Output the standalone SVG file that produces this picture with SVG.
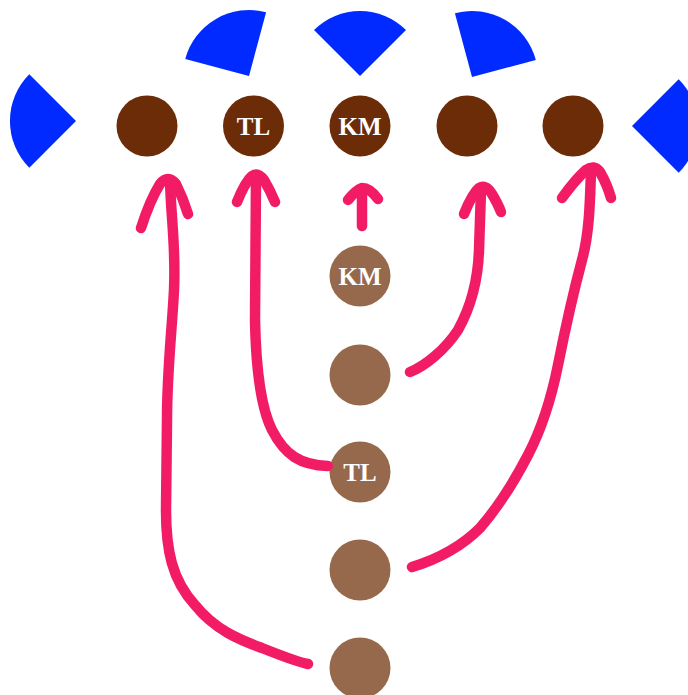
<svg xmlns="http://www.w3.org/2000/svg" width="688" height="695" viewBox="0 0 688 695">
<defs>
<filter id="soft" x="-10%" y="-10%" width="120%" height="120%"><feGaussianBlur stdDeviation="0.7"/></filter>
</defs>
<style>
.def{fill:#002bff;filter:url(#soft)}
.off{fill:#6b2c07}
.opp{fill:#96694d}
.lbl{fill:#ffffff;font-family:"Liberation Serif",serif;font-weight:bold;font-size:25px;text-anchor:middle}
.rt{fill:none;stroke:#f21e66;stroke-width:10.5;stroke-linecap:round;stroke-linejoin:round}
</style>
<rect width="688" height="695" fill="#ffffff"/>
<g id="defenders">
<path id="d1" class="def" d="M76 121 L29.3 74.3 A66 66 0 0 0 29.3 167.7 Z"/>
<path id="d2" class="def" d="M249 76 L185.3 58.9 A66 66 0 0 1 266.1 12.3 Z"/>
<path id="d3" class="def" d="M360 76 L314 30 A65 65 0 0 1 406 30 Z"/>
<path id="d4" class="def" d="M472 77 L454.9 13.3 A66 66 0 0 1 535.8 59.9 Z"/>
<path id="d5" class="def" d="M632 126 L678.7 79.3 A66 66 0 0 1 678.7 172.7 Z"/>
</g>
<g id="n1"><circle class="off" cx="147" cy="126" r="30.5"/></g>
<g id="n2"><circle class="off" cx="253.5" cy="126" r="30.5"/><text class="lbl" x="253.5" y="135">TL</text></g>
<g id="n3"><circle class="off" cx="360" cy="126" r="30.5"/><text class="lbl" x="360" y="135">KM</text></g>
<g id="n4"><circle class="off" cx="467" cy="126" r="30.5"/></g>
<g id="n5"><circle class="off" cx="573" cy="126" r="30.5"/></g>
<g id="m1"><circle class="opp" cx="360" cy="276" r="30.5"/><text class="lbl" x="360" y="285">KM</text></g>
<g id="m2"><circle class="opp" cx="360" cy="375" r="30.5"/></g>
<g id="m3"><circle class="opp" cx="360" cy="472" r="30.5"/><text class="lbl" x="360" y="481">TL</text></g>
<g id="m4"><circle class="opp" cx="360" cy="570" r="30.5"/></g>
<g id="m5"><circle class="opp" cx="360" cy="668" r="30.5"/></g>
<g id="connectors" filter="url(#soft)">
<path class="rt" d="M170 180 C171 220 176 245 174 290 C172 330 167 370 167 420 L166 510 C166 550 172 580 195 605 C215 630 240 640 262 648 C282 656 298 662 308 664"/>
<path class="rt" d="M141 228 Q150 200 160 184 Q168 174 176 184 Q183 198 188 214"/>
<path class="rt" d="M256 178 L255 320 C256 370 262 410 272 430 C285 455 300 465 328 466"/>
<path class="rt" d="M237 202 Q245 182 252 176 Q258 172 264 180 Q270 190 275 202"/>
<path class="rt" d="M362 226 L362 189"/>
<path class="rt" d="M348 200 Q356 190 362 188 Q370 188 378 199"/>
<path class="rt" d="M410 372 C425 366 445 350 458 330 C472 305 478 280 479 250 L481 190"/>
<path class="rt" d="M464 214 Q472 194 479 188 Q486 184 492 194 Q498 204 501 212"/>
<path class="rt" d="M591 170 C590 205 589 235 582 260 C574 290 566 325 558 365 C551 400 542 428 528 455 C515 480 500 505 480 528 C460 548 435 560 412 567"/>
<path class="rt" d="M562 198 Q575 180 586 170 Q594 164 600 172 Q607 184 611 198"/>
</g>
</svg>
